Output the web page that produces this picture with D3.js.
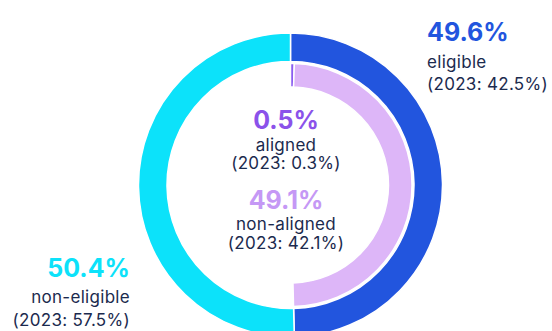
<!DOCTYPE html>
<html>
<head>
<meta charset="utf-8">
<script src="https://cdn.jsdelivr.net/npm/d3@7"></script>
<style>
  body { margin: 0; background: #fff; }
  svg { display: block; font-family: Inter, "Noto Sans", sans-serif; }
</style>
</head>
<body>
<svg id="chart"></svg>
<script>
// outer ring: share of turnover
var outerNames = ["eligible", "non-eligible"];
var outerValues = [49.6, 50.4];
var outerPrior = [42.5, 57.5];
// inner ring: split of the eligible part
var innerNames = ["aligned", "non-aligned"];
var innerValues = [0.5, 49.1];
var innerPrior = [0.3, 42.1];

var W = 552, H = 331;
var cx = 290.5, cy = 185;

var svg = d3.select("#chart").attr("width", W).attr("height", H);
var g = svg.append("g").attr("transform", "translate(" + cx + "," + cy + ")");

var angle = d3.scaleLinear().domain([0, 100]).range([0, 2 * Math.PI]);

var outerColor = d3.scaleOrdinal().domain(outerNames).range(["#2255de", "#0ce2fa"]);
var innerColor = d3.scaleOrdinal().domain(innerNames).range(["#8a5cf0", "#ddb6f8"]);

var outerPie = d3.pie().sort(null).value(function(d) { return d; })
    .startAngle(0).endAngle(angle(d3.sum(outerValues)));
var innerPie = d3.pie().sort(null).value(function(d) { return d; })
    .startAngle(0).endAngle(angle(d3.sum(innerValues)));

var outerArc = d3.arc().innerRadius(123.5).outerRadius(152);
var innerArc = d3.arc().innerRadius(98).outerRadius(121.5);

g.selectAll("path.outer")
  .data(outerPie(outerValues))
  .enter().append("path")
    .attr("class", "outer")
    .attr("d", outerArc)
    .attr("fill", function(d, i) { return outerColor(outerNames[i]); })
    .attr("stroke", "#fff")
    .attr("stroke-width", 1.5);

g.selectAll("path.inner")
  .data(innerPie(innerValues))
  .enter().append("path")
    .attr("class", "inner")
    .attr("d", innerArc)
    .attr("fill", function(d, i) { return innerColor(innerNames[i]); })
    .attr("stroke", "#fff")
    .attr("stroke-width", 1.5);

var textColor = "#1b2a4e";

// gaps = distance from percent baseline to the two text lines
function label(x, y, anchor, pct, color, name, prior, gap1, gap2) {
  var t = svg.append("g").attr("text-anchor", anchor);
  t.append("text").attr("x", x).attr("y", y)
    .attr("font-size", 25).attr("font-weight", 700).attr("fill", color)
    .text(d3.format(".1f")(pct) + "%");
  t.append("text").attr("x", x).attr("y", y + gap1)
    .attr("font-size", 17).attr("letter-spacing", 0.3).attr("fill", textColor).text(name);
  t.append("text").attr("x", x).attr("y", y + gap2)
    .attr("font-size", 17).attr("letter-spacing", 0.3).attr("fill", textColor)
    .text("(2023: " + d3.format(".1f")(prior) + "%)");
}

label(427, 41, "start", outerValues[0], outerColor(outerNames[0]), outerNames[0], outerPrior[0], 27, 49);
label(130, 277, "end", outerValues[1], outerColor(outerNames[1]), outerNames[1], outerPrior[1], 26, 49);
label(286, 129, "middle", innerValues[0], "#8b52ea", innerNames[0], innerPrior[0], 21.5, 40);
label(286, 209, "middle", innerValues[1], "#c598f5", innerNames[1], innerPrior[1], 21, 40);
</script>
</body>
</html>
